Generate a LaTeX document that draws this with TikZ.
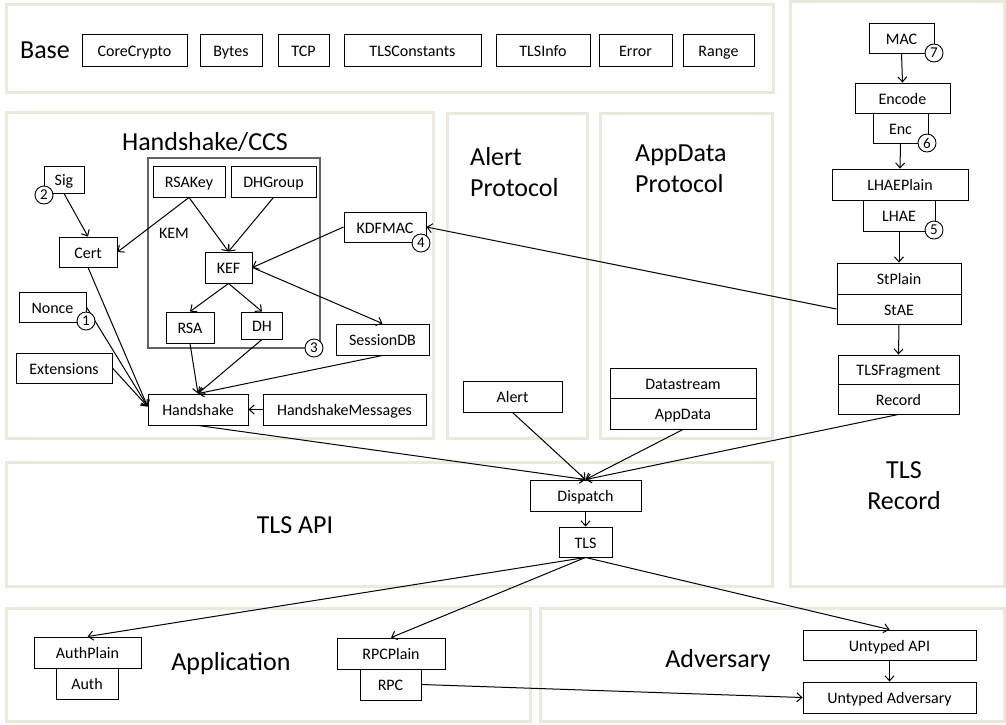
\documentclass[tikz,border=0pt]{standalone}
\usepackage{fontspec}
\setmainfont{Carlito}
\usetikzlibrary{arrows.meta}
\definecolor{panelc}{RGB}{236,233,220}
\definecolor{kemc}{RGB}{100,100,100}
\begin{document}
\begin{tikzpicture}[x=1pt,y=-1pt,
  box/.style={draw, line width=0.9pt, fill=white, inner sep=0pt, text height=12.5pt, text depth=0pt, font=\fontsize{16}{19}\selectfont},
  num/.style={circle, draw, fill=white, line width=0.9pt, minimum size=18pt, inner sep=0pt, font=\fontsize{15}{18}\selectfont},
  panel/.style={draw=panelc, line width=3pt},
  ttl/.style={inner sep=0pt, font=\fontsize{26}{31}\selectfont},
  lbl/.style={inner sep=0pt, font=\fontsize{16}{19}\selectfont},
  arr/.style={-{Straight Barb[length=5pt,width=9pt]}, line width=1pt}]
\useasboundingbox (0,0) rectangle (1006,724);
% panels
\draw[panel] (6,4) rectangle (773,92);
\draw[panel] (790,1) rectangle (1004,586);
\draw[panel] (6,112) rectangle (433,438);
\draw[panel] (447,113) rectangle (587,438);
\draw[panel] (600,113) rectangle (772,438);
\draw[panel] (6,462) rectangle (772,586);
\draw[panel] (6,608) rectangle (530,721);
\draw[panel] (540,608) rectangle (1004,721);
% Base
\node[ttl] (basettl) at (45,50) {Base};
\node[box, minimum width=105pt, minimum height=32pt] (corecrypto) at (134.5,50) {CoreCrypto};
\node[box, minimum width=62pt, minimum height=32pt] (bytes) at (231,50) {Bytes};
\node[box, minimum width=51pt, minimum height=32pt] (tcp) at (303.5,50) {TCP};
\node[box, minimum width=137pt, minimum height=32pt] (tlsconst) at (412.5,50) {TLSConstants};
\node[box, minimum width=94pt, minimum height=32pt] (tlsinfo) at (543,50) {TLSInfo};
\node[box, minimum width=73pt, minimum height=32pt] (error) at (635.5,50) {Error};
\node[box, minimum width=71pt, minimum height=32pt] (range) at (718.5,50) {Range};
% TLS Record
\node[box, minimum width=65pt, minimum height=30pt] (mac) at (901.5,38) {MAC};
\node[box, minimum width=95pt, minimum height=30pt] (encode) at (902.5,98) {Encode};
\node[box, minimum width=55pt, minimum height=30pt] (enc) at (900.5,128) {Enc};
\node[box, minimum width=136pt, minimum height=31pt] (lhaeplain) at (900,184.5) {LHAEPlain};
\node[box, minimum width=72pt, minimum height=31pt] (lhae) at (899,215.5) {LHAE};
\node[box, minimum width=124pt, minimum height=31pt] (stplain) at (899,278.5) {StPlain};
\node[box, minimum width=124pt, minimum height=30pt] (stae) at (899,309) {StAE};
\node[box, minimum width=121pt, minimum height=29pt] (tlsfrag) at (898.5,369.5) {TLSFragment};
\node[box, minimum width=121pt, minimum height=30pt] (record) at (898.5,399) {Record};
\node[ttl, align=center] (recttl) at (904,486) {TLS\\Record};
% Handshake/CCS
\node[ttl] (hsttl) at (205,142) {Handshake/CCS};
\draw[draw=kemc, line width=1.2pt] (148,158) rectangle (320,348);
\node[lbl] (kemlbl) at (174,233) {KEM};
\node[box, minimum width=72pt, minimum height=31pt] (rsakey) at (189,181.5) {RSAKey};
\node[box, minimum width=85pt, minimum height=31pt] (dhgroup) at (273.5,181.5) {DHGroup};
\node[box, minimum width=47pt, minimum height=31pt] (kef) at (228.5,267.5) {KEF};
\node[box, minimum width=48pt, minimum height=31pt] (rsa) at (190,327.5) {RSA};
\node[box, minimum width=41pt, minimum height=27pt] (dh) at (262,325.5) {DH};
\node[box, minimum width=40pt, minimum height=27pt] (sig) at (64,179.5) {Sig};
\node[box, minimum width=58pt, minimum height=30pt] (cert) at (88,252) {Cert};
\node[box, minimum width=67pt, minimum height=30pt] (nonce) at (52.5,307) {Nonce};
\node[box, minimum width=96pt, minimum height=30pt] (ext) at (64,368) {Extensions};
\node[box, minimum width=100pt, minimum height=31pt] (handshake) at (198,409.5) {Handshake};
\node[box, minimum width=163pt, minimum height=31pt] (hsmsg) at (344.5,409.5) {HandshakeMessages};
\node[box, minimum width=82pt, minimum height=30pt] (kdfmac) at (385,227) {KDFMAC};
\node[box, minimum width=93pt, minimum height=31pt] (sessiondb) at (382.5,339.5) {SessionDB};
% Alert / AppData
\node[ttl, align=left, anchor=west] (alertttl) at (470,172) {Alert\\Protocol};
\node[ttl, align=left, anchor=west] (appttl) at (635,169) {AppData\\Protocol};
\node[box, minimum width=99pt, minimum height=31pt] (alert) at (512.5,396.5) {Alert};
\node[box, minimum width=146pt, minimum height=30pt] (datastream) at (683,383) {Datastream};
\node[box, minimum width=146pt, minimum height=31pt] (appdata) at (683,413.5) {AppData};
% TLS API
\node[ttl] (apittl) at (295,525) {TLS API};
\node[box, minimum width=111pt, minimum height=31pt] (dispatch) at (585.5,495.5) {Dispatch};
\node[box, minimum width=53pt, minimum height=30pt] (tls) at (585.5,542) {TLS};
% Application / Adversary
\node[ttl] (appl) at (231,664) {Application};
\node[box, minimum width=107pt, minimum height=31pt] (authplain) at (87.5,652.5) {AuthPlain};
\node[box, minimum width=62pt, minimum height=31pt] (auth) at (87,683.5) {Auth};
\node[box, minimum width=108pt, minimum height=31pt] (rpcplain) at (391,653.5) {RPCPlain};
\node[box, minimum width=61pt, minimum height=31pt] (rpc) at (390.5,684.5) {RPC};
\node[ttl] (advttl) at (718,661) {Adversary};
\node[box, minimum width=173pt, minimum height=30pt] (uapi) at (889.5,645) {Untyped API};
\node[box, minimum width=173pt, minimum height=31pt] (uadv) at (889.5,697.5) {Untyped Adversary};
% connectors
\draw[arr] (mac.south) -- (encode.north);
\draw[arr] (enc.south) -- (lhaeplain.north);
\draw[arr] (lhae.south) -- (stplain.north);
\draw[arr] (stae.south) -- (tlsfrag.north);
\draw[arr] (stae.west) -- (kdfmac.east);
\draw[arr] (sig.south) -- (cert.north);
\draw[arr] (rsakey.south) -- (cert.east);
\draw[arr] (rsakey.south) -- (kef.north);
\draw[arr] (dhgroup.south) -- (kef.north);
\draw[arr] (kdfmac.west) -- (kef.east);
\draw[arr] (kef.east) -- (sessiondb.north);
\draw[arr] (kef.south) -- (rsa.north);
\draw[arr] (kef.south) -- (dh.north);
\draw[arr] (rsa.south) -- (handshake.north);
\draw[arr] (dh.south) -- (handshake.north);
\draw[arr] (sessiondb.south) -- (handshake.north);
\draw[arr] (hsmsg.west) -- (handshake.east);
\coordinate (hsin) at ([yshift=3pt]handshake.west);
\draw[arr] (cert.south) -- (hsin);
\draw[arr] (nonce.east) -- (hsin);
\draw[arr] (ext.east) -- (hsin);
\draw[arr] (handshake.south) -- (dispatch.north);
\draw[arr] (alert.south) -- (dispatch.north);
\draw[arr] (appdata.south) -- (dispatch.north);
\draw[arr] (record.south) -- (dispatch.north);
\draw[arr] (dispatch.south) -- (tls.north);
\draw[arr] (tls.south) -- (authplain.north);
\draw[arr] (tls.south) -- (rpcplain.north);
\draw[arr] (tls.south) -- (uapi.north);
\draw[arr] (uapi.south) -- (uadv.north);
\draw[arr] (rpc.east) -- (uadv.west);
% numbered circles
\node[num] (n1) at (86,321) {1};
\node[num] (n2) at (44,195) {2};
\node[num] (n3) at (314,348) {3};
\node[num] (n4) at (421,243) {4};
\node[num] (n5) at (934,230) {5};
\node[num] (n6) at (927,143) {6};
\node[num] (n7) at (934,53) {7};
\end{tikzpicture}
\end{document}
